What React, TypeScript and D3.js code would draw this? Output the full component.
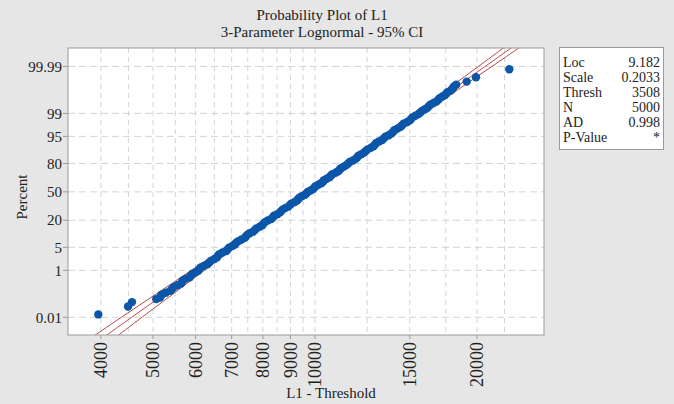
import * as d3 from 'd3'

const W = 674
const H = 404
const PLOT = { left: 68, top: 48, right: 544, bottom: 335 }
const FONT = '"Liberation Serif", "Times New Roman", serif'

// axis ticks
const Y_TICKS = [0.01, 1, 5, 20, 50, 80, 95, 99, 99.99]
const X_TICKS = [4000, 5000, 6000, 7000, 8000, 9000, 10000, 15000, 20000]
const X_GRID = [4000, 4500, 5000, 5500, 6000, 6500, 7000, 7500, 8000, 8500, 9000, 9500, 10000, 12500, 15000, 17500, 20000, 22500]

// sorted sample (L1 - Threshold) and its plotting percent
const PCT = [
  0.014, 0.034, 0.054,
  0.074, 0.086, 0.1, 0.118, 0.14, 0.167, 0.2, 0.236, 0.28, 0.327,
  0.38, 0.436, 0.5, 0.57, 0.66, 0.75, 0.85, 0.97, 1.1, 1.24,
  1.4, 1.59, 1.8, 2.04, 2.3, 2.58, 2.9, 3.23, 3.6, 3.98,
  4.4, 4.88, 5.4, 5.93, 6.5, 7.1, 7.8, 8.5, 9.3, 10.1,
  11, 11.9, 12.9, 13.9, 15, 16.1, 17.3, 18.5, 19.8, 21.1,
  22.5, 23.9, 25.4, 26.9, 28.4, 29.9, 31.5, 33.1, 34.7, 36.3,
  38, 39.7, 41.4, 43.1, 44.8, 46.5, 48.2, 49.9, 51.6, 53.3,
  55, 56.7, 58.4, 60.1, 61.8, 63.5, 65.1, 66.7, 68.3, 69.9,
  71.4, 72.9, 74.4, 75.8, 77.2, 78.6, 79.9, 81.2, 82.4, 83.6,
  84.7, 85.8, 86.8, 87.8, 88.7, 89.6, 90.4, 91.2, 91.9, 92.6,
  93.2, 93.8, 94.35, 94.9, 95.35, 95.8, 96.2, 96.6, 96.95, 97.27,
  97.55, 97.82, 98.05, 98.27, 98.45, 98.64, 98.8, 98.95, 99.07, 99.18,
  99.28, 99.37, 99.45, 99.52, 99.58, 99.63, 99.68, 99.72, 99.76, 99.79,
  99.82, 99.845, 99.865, 99.884, 99.9, 99.914, 99.926,
  99.946, 99.966, 99.986,
]
const VAL = [
  3956, 4493, 4570,
  5070, 5150, 5170, 5190, 5280, 5380, 5420, 5460, 5550, 5640,
  5660, 5680, 5750, 5850, 5880, 5910, 5990, 6070, 6090, 6130,
  6210, 6310, 6360, 6400, 6490, 6570, 6600, 6640, 6730, 6840,
  6880, 6920, 7020, 7100, 7130, 7190, 7290, 7390, 7440, 7480,
  7560, 7670, 7730, 7780, 7890, 7980, 8020, 8070, 8170, 8290,
  8350, 8390, 8510, 8600, 8650, 8700, 8800, 8920, 8980, 9030,
  9150, 9250, 9300, 9350, 9450, 9580, 9640, 9690, 9810, 9920,
  9970, 10020, 10140, 10270, 10350, 10390, 10510, 10640, 10700, 10770,
  10920, 11040, 11110, 11170, 11300, 11440, 11520, 11600, 11760, 11900,
  11980, 12040, 12190, 12340, 12430, 12520, 12690, 12840, 12920, 12990,
  13150, 13330, 13420, 13510, 13700, 13870, 13960, 14040, 14210, 14400,
  14500, 14600, 14810, 14990, 15080, 15170, 15360, 15570, 15690, 15800,
  16000, 16180, 16280, 16400, 16600, 16810, 16950, 17020, 17220, 17420,
  17540, 17630, 17850, 17990, 18050, 18150, 18300,
  19139, 19916, 22966,
]

// fitted line and 95% CI bounds, read at a few percents
const CI_PCT = [0.0005, 0.001, 0.01, 0.1, 1, 10, 50, 90, 99, 99.9, 99.99, 99.999, 99.9995]
const CI_LO = [3760, 3886, 4367, 5000, 5892, 7372, 9669, 12478, 15315, 17788, 20121, 22394, 23075]
const CI_FIT = [3961, 4086, 4563, 5186, 6059, 7492, 9727, 12622, 15604, 18226, 20713, 23145, 23878]
const CI_HI = [4173, 4297, 4768, 5380, 6230, 7614, 9786, 12767, 15898, 18674, 21322, 23922, 24709]

const LEGEND = [
  ['Loc', '9.182'],
  ['Scale', '0.2033'],
  ['Thresh', '3508'],
  ['N', '5000'],
  ['AD', '0.998'],
  ['P-Value', '*'],
]

// inverse normal cdf (Acklam)
function probit(p: number) {
  const a = [-39.69683028665376, 220.9460984245205, -275.9285104469687, 138.357751867269, -30.66479806614716, 2.506628277459239]
  const b = [-54.47609879822406, 161.5858368580409, -155.6989798598866, 66.80131188771972, -13.28068155288572]
  const c = [-0.007784894002430293, -0.3223964580411365, -2.400758277161838, -2.549732539343734, 4.374664141464968, 2.938163982698783]
  const d = [0.007784695709041462, 0.3224671290700398, 2.445134137142996, 3.754408661907416]
  const pl = 0.02425
  if (p < pl) {
    const q = Math.sqrt(-2 * Math.log(p))
    return (((((c[0] * q + c[1]) * q + c[2]) * q + c[3]) * q + c[4]) * q + c[5]) / ((((d[0] * q + d[1]) * q + d[2]) * q + d[3]) * q + 1)
  }
  if (p > 1 - pl) {
    const q = Math.sqrt(-2 * Math.log(1 - p))
    return -(((((c[0] * q + c[1]) * q + c[2]) * q + c[3]) * q + c[4]) * q + c[5]) / ((((d[0] * q + d[1]) * q + d[2]) * q + d[3]) * q + 1)
  }
  const q = p - 0.5
  const r = q * q
  return (((((a[0] * r + a[1]) * r + a[2]) * r + a[3]) * r + a[4]) * r + a[5]) * q / (((((b[0] * r + b[1]) * r + b[2]) * r + b[3]) * r + b[4]) * r + 1)
}

const xScale = d3.scaleLog().domain([3475, 26640]).range([PLOT.left, PLOT.right])
const zScale = d3.scaleLinear()
  .domain([probit(0.0011 / 100), probit(99.999 / 100)])
  .range([PLOT.bottom, PLOT.top])
const yScale = (pct: number) => zScale(probit(pct / 100))

const GRID = '#d4d4d4'
const AXIS = '#9a9a9a'
const TXT = '#222'
const RED = '#b9484a'
const BLUE = '#0b56a8'

export default function App() {
  const pts = VAL.map((v, i) => ({ v, p: PCT[i] }))
  const mkLine = (arr: number[]) =>
    d3.line<number>()
      .x((v) => xScale(v))
      .y((_, i) => yScale(CI_PCT[i]))
      .curve(d3.curveCatmullRom)(arr) || ''

  return (
    <svg width={W} height={H} style={{ position: 'absolute', left: 0, top: 0, fontFamily: FONT }}>
      <defs>
        <clipPath id="plotclip">
          <rect x={PLOT.left} y={PLOT.top} width={PLOT.right - PLOT.left} height={PLOT.bottom - PLOT.top} />
        </clipPath>
      </defs>
      <rect width={W} height={H} fill="#e6e6e6" />

      {/* titles */}
      <text x={322} y={20} textAnchor="middle" fontSize={15} fill={TXT}>Probability Plot of L1</text>
      <text x={322} y={37} textAnchor="middle" fontSize={15} fill={TXT}>3-Parameter Lognormal - 95% CI</text>

      {/* plot area */}
      <rect x={PLOT.left} y={PLOT.top} width={PLOT.right - PLOT.left} height={PLOT.bottom - PLOT.top} fill="#fff" />

      {/* grid */}
      {X_GRID.map((v) => (
        <line key={'gx' + v} x1={xScale(v)} x2={xScale(v)} y1={PLOT.top} y2={PLOT.bottom}
          stroke={GRID} strokeWidth={1} strokeDasharray="5,4" />
      ))}
      {Y_TICKS.map((p) => (
        <line key={'gy' + p} x1={PLOT.left} x2={PLOT.right} y1={yScale(p)} y2={yScale(p)}
          stroke={GRID} strokeWidth={1} strokeDasharray="7,4" />
      ))}

      {/* fit + CI */}
      <g clipPath="url(#plotclip)" fill="none" stroke={RED} strokeWidth={1}>
        <path d={mkLine(CI_LO)} />
        <path d={mkLine(CI_FIT)} />
        <path d={mkLine(CI_HI)} />
      </g>

      {/* points */}
      <g fill={BLUE}>
        {pts.map((d, i) => (
          <circle key={i} cx={xScale(d.v)} cy={yScale(d.p)} r={4.2} />
        ))}
      </g>

      <rect x={PLOT.left} y={PLOT.top} width={PLOT.right - PLOT.left} height={PLOT.bottom - PLOT.top}
        fill="none" stroke={AXIS} strokeWidth={1} />

      {/* y axis */}
      {Y_TICKS.map((p) => (
        <g key={'ty' + p} transform={`translate(0,${yScale(p)})`}>
          <line x1={PLOT.left - 5} x2={PLOT.left} stroke={AXIS} />
          <text x={PLOT.left - 6} dy="0.35em" textAnchor="end" fontSize={15} fill={TXT}>{String(p)}</text>
        </g>
      ))}
      <text transform={`translate(27,197) rotate(-90)`} textAnchor="middle" fontSize={15} fill={TXT}>Percent</text>

      {/* x axis */}
      {X_TICKS.map((v) => (
        <g key={'tx' + v} transform={`translate(${xScale(v)},0)`}>
          <line y1={PLOT.bottom} y2={PLOT.bottom + 4} stroke={AXIS} />
          <text transform={`translate(0,${PLOT.bottom + 7}) rotate(-90)`} dy="0.35em" textAnchor="end"
            fontSize={18} fill={TXT}>{String(v)}</text>
        </g>
      ))}
      <text x={331} y={398} textAnchor="middle" fontSize={15} fill={TXT}>L1 - Threshold</text>

      {/* legend */}
      <rect x={559.5} y={47.5} width={104} height={102} fill="#fff" stroke={AXIS} />
      {LEGEND.map(([k, v], i) => (
        <g key={k}>
          <text x={563} y={66.5 + i * 15} fontSize={14} fill={TXT}>{k}</text>
          <text x={660} y={66.5 + i * 15} textAnchor="end" fontSize={14} fill={TXT}>{v}</text>
        </g>
      ))}
    </svg>
  )
}
